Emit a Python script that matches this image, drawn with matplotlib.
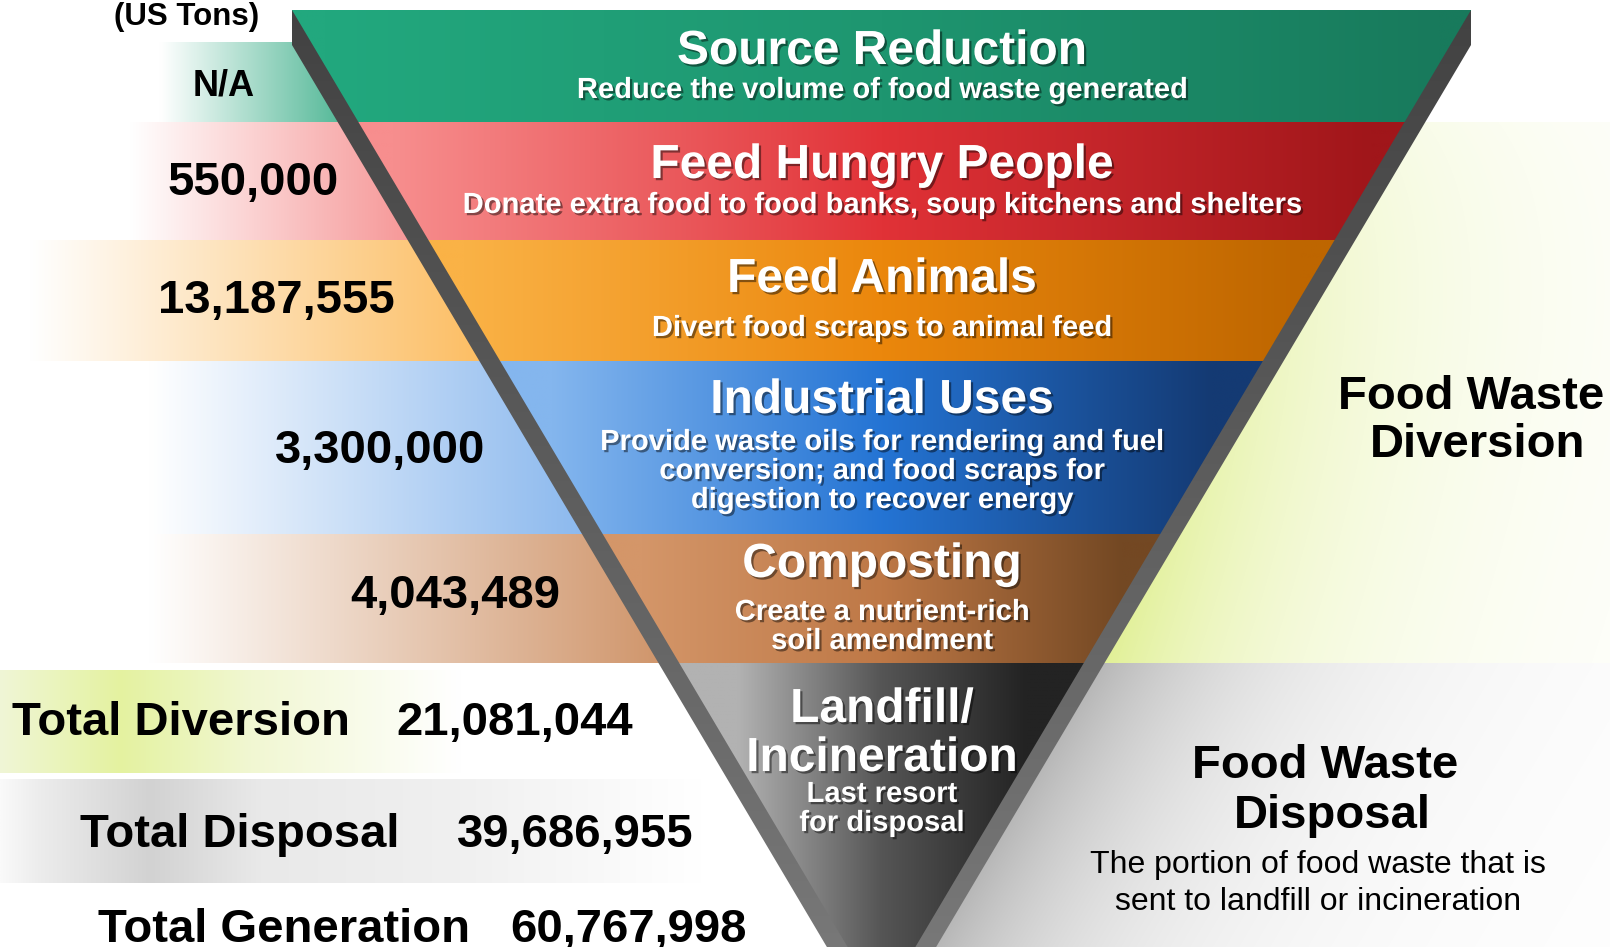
import numpy as np
import matplotlib
matplotlib.use("Agg")
import matplotlib.pyplot as plt
from matplotlib.patches import Polygon
import matplotlib.patheffects as pe

# ---------------- data ----------------
tiers = ["Source Reduction", "Feed Hungry People", "Feed Animals",
         "Industrial Uses", "Composting", "Landfill/\nIncineration"]
tier_notes = ["Reduce the volume of food waste generated",
              "Donate extra food to food banks, soup kitchens and shelters",
              "Divert food scraps to animal feed",
              "Provide waste oils for rendering and fuel\nconversion; and food scraps for\ndigestion to recover energy",
              "Create a nutrient-rich\nsoil amendment",
              "Last resort\nfor disposal"]
tier_tons = [None, 550000, 13187555, 3300000, 4043489]   # landfill tier has no value on the left
total_labels = ["Total Diversion", "Total Disposal", "Total Generation"]
total_values = [21081044, 39686955, 60767998]
unit_label = "(US Tons)"
diversion_label = "Food Waste\nDiversion"
disposal_label = "Food Waste\nDisposal"
disposal_note = "The portion of food waste that is\nsent to landfill or incineration"

# ---------------- layout / style ----------------
W, H = 1610, 947
TOP, XL, XR, SLOPE, DEPTH = 10, 292, 1471, 0.593, 35
band_edges = [10, 122, 240, 361, 534, 663]
APEX_Y = TOP + (XR - XL) / (2 * SLOPE)
APEX_X = (XL + XR) / 2

front_cols = [
    [(34, 168, 126), (30, 150, 112), (24, 122, 92)],
    [(247, 142, 142), (225, 50, 55), (160, 22, 26)],
    [(250, 178, 70), (235, 135, 12), (190, 102, 0)],
    [(132, 182, 238), (36, 116, 212), (20, 58, 115)],
    [(212, 150, 105), (190, 120, 70), (115, 72, 35)],
    [(178, 178, 178), (85, 85, 85), (35, 35, 35)],
]
side_cols = [(88, 186, 154), (246, 152, 152), (252, 190, 100), (140, 185, 238), (208, 150, 108)]
side_start = [160, 130, 30, 150, 150]
side_top = [42, 122, 240, 361, 534]
side_bot = [122, 240, 361, 534, 663]

num_x = [224, 253, 276, 380, 455]
num_base = [95, 195, 313, 463, 608]
head_base = [64, 178, 292, 413, 577, 722]
note_base = [98, 213, 336, 450, 620, 802]
CX = 882
FONT = "Liberation Sans"

fig = plt.figure(figsize=(W / 100, H / 100), dpi=100)
ax = fig.add_axes([0, 0, 1, 1])
ax.axis("off")


def L(y):
    return XL + SLOPE * (y - TOP)


def R(y):
    return XR - SLOPE * (y - TOP)


def interp_colors(xs, stops):
    pos = [s[0] for s in stops]
    cols = np.array([s[1] for s in stops], float) / 255
    return np.stack([np.interp(xs, pos, cols[:, k]) for k in range(3)], axis=-1)


def hgrad(x0, x1, y0, y1, stops, clip=None, z=1, n=700):
    xs = np.linspace(x0, x1, n)
    row = interp_colors(xs, stops)
    img = np.repeat(row[None], 2, axis=0)
    im = ax.imshow(img, extent=(x0, x1, y1, y0), aspect="auto",
                   interpolation="bilinear", zorder=z)
    if clip is not None:
        im.set_clip_path(clip)
    return im


# ---- left value bands ----
for i in range(5):
    y0, y1 = side_top[i], side_bot[i]
    xe = XL + SLOPE * (y1 - TOP - DEPTH)
    stops = [(0, (255, 255, 255)), (side_start[i], (255, 255, 255)),
             (xe, side_cols[i]), (APEX_X, side_cols[i])]
    hgrad(0, APEX_X, y0, y1, stops, z=1)

# ---- totals bands ----
hgrad(0, 700, 670, 773, [(0, (240, 246, 214)), (120, (228, 242, 160)), (250, (241, 247, 210)),
                         (460, (255, 255, 255)), (700, (255, 255, 255))], z=1)
hgrad(0, 760, 779, 883, [(0, (250, 250, 250)), (40, (236, 236, 236)), (150, (210, 210, 210)),
                         (260, (233, 233, 233)), (460, (240, 240, 240)), (700, (255, 255, 255)),
                         (760, (255, 255, 255))], z=1)

# ---- right regions (diversion green / disposal gray) ----
ys = np.arange(122, 663) + 0.5
xs = np.arange(880, W) + 0.5
rb = XR - SLOPE * (ys - TOP - DEPTH)
d = np.clip(xs[None, :] - rb[:, None], 0, None)
v = 0.2 + 0.8 * (ys - 122) / (663 - 122)
a = np.exp(-d / 180) * v[:, None]
green = np.array([225, 240, 150]) / 255
img = 1 - a[..., None] * (1 - green)
ax.imshow(img, extent=(880, W, 663, 122), aspect="auto", interpolation="bilinear", zorder=1)

ys = np.arange(663, H) + 0.5
rb = XR - SLOPE * (ys - TOP - DEPTH)
d = np.clip(xs[None, :] - rb[:, None], 0, None)
g = 1 - 0.28 * np.exp(-d / 170)
img = np.repeat(g[..., None], 3, axis=2)
ax.imshow(img, extent=(880, W, H, 663), aspect="auto", interpolation="bilinear", zorder=1)

# ---- 3D side (hull) ----
hull = Polygon([(XL, TOP), (XR, TOP), (XR, TOP + DEPTH), (APEX_X, APEX_Y + DEPTH),
                (XL, TOP + DEPTH)], closed=True, transform=ax.transData)
yy = np.linspace(TOP, APEX_Y + DEPTH, 300)
col = interp_colors(yy, [(TOP, (66, 66, 66)), (APEX_Y + DEPTH, (125, 125, 125))])
img = np.repeat(col[:, None, :], 2, axis=1)
im = ax.imshow(img, extent=(XL, XR, APEX_Y + DEPTH, TOP), aspect="auto",
               interpolation="bilinear", zorder=2)
im.set_clip_path(hull)

# ---- front face bands ----
edges = band_edges + [APEX_Y]
for i in range(6):
    y0, y1 = edges[i], edges[i + 1]
    poly = Polygon([(L(y0), y0), (R(y0), y0), (R(y1), y1), (L(y1), y1)],
                   closed=True, transform=ax.transData)
    ym = (y0 + min(y1, 860)) / 2
    lx, rx = L(ym), R(ym)
    c = front_cols[i]
    stops = [(XL - 50, c[0]), (lx, c[0]), ((lx + rx) / 2, c[1]), (rx, c[2]), (XR + 50, c[2])]
    hgrad(XL - 50, XR + 50, y0, y1 + 0.6, stops, clip=poly, z=3)

# ---- texts ----
shadow = [pe.withSimplePatchShadow(offset=(1.6, -1.6), shadow_rgbFace=(0, 0, 0), alpha=0.45)]
for i in range(6):
    for k, line in enumerate(tiers[i].split("\n")):
        ax.text(CX, head_base[i] + 49 * k, line, ha="center", va="baseline", fontsize=34.5,
                fontweight="bold", color="white", family=FONT, zorder=6, path_effects=shadow)
    for k, line in enumerate(tier_notes[i].split("\n")):
        ax.text(CX, note_base[i] + 29 * k, line, ha="center", va="baseline", fontsize=21,
                fontweight="bold", color="white", family=FONT, zorder=6, path_effects=shadow)

for i, val in enumerate(tier_tons):
    s = "N/A" if val is None else f"{val:,}"
    ax.text(num_x[i], num_base[i], s, ha="center", va="baseline",
            fontsize=26 if val is None else 34, fontweight="bold", color="black",
            family=FONT, zorder=6)

ax.text(187, 25, unit_label, ha="center", va="baseline", fontsize=22.5, fontweight="bold",
        color="black", family=FONT, zorder=6)

tot_lab_x = [12, 80, 98]
tot_val_x = [396, 457, 510]
tot_base = [735, 847, 942]
for i in range(3):
    ax.text(tot_lab_x[i], tot_base[i], total_labels[i], ha="left", va="baseline", fontsize=34,
            fontweight="bold", color="black", family=FONT, zorder=6)
    ax.text(tot_val_x[i], tot_base[i], f"{total_values[i]:,}", ha="left", va="baseline",
            fontsize=34, fontweight="bold", color="black", family=FONT, zorder=6)

for k, (line, x, y) in enumerate(zip(diversion_label.split("\n"), [1471, 1478], [409, 457])):
    ax.text(x, y, line, ha="center", va="baseline", fontsize=34, fontweight="bold",
            color="black", family=FONT, zorder=6)
for k, (line, x, y) in enumerate(zip(disposal_label.split("\n"), [1325, 1332], [778, 828])):
    ax.text(x, y, line, ha="center", va="baseline", fontsize=34, fontweight="bold",
            color="black", family=FONT, zorder=6)
for k, (line, y) in enumerate(zip(disposal_note.split("\n"), [873, 910])):
    ax.text(1318, y, line, ha="center", va="baseline", fontsize=23,
            color="black", family=FONT, zorder=6)

ax.set_xlim(0, W)
ax.set_ylim(H, 0)
fig.savefig("out.png", dpi=100, facecolor="white")
